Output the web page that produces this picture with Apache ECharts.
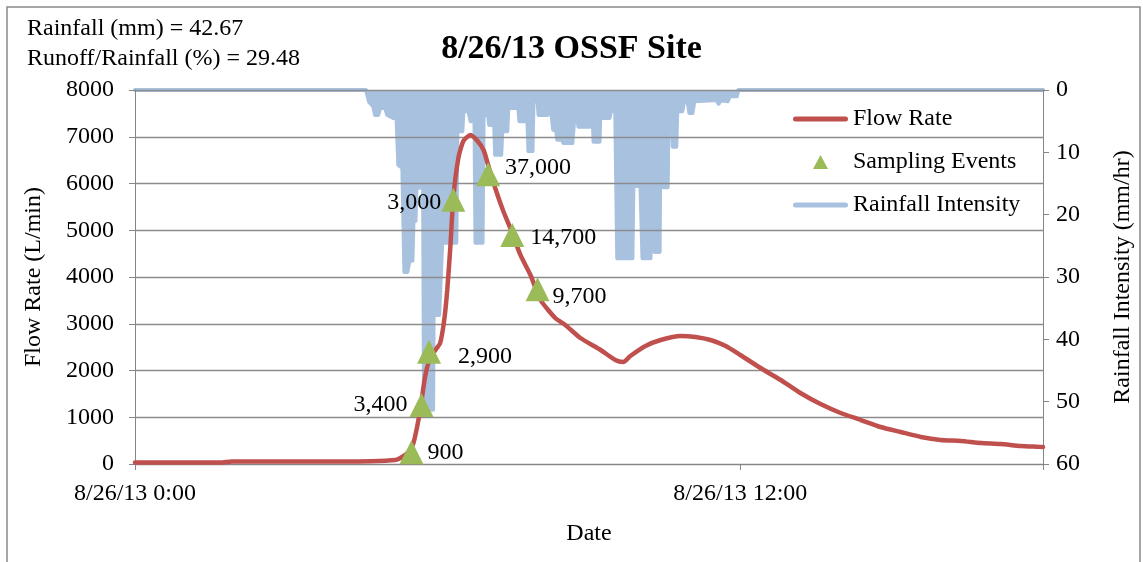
<!DOCTYPE html>
<html><head><meta charset="utf-8">
<script src="https://cdn.jsdelivr.net/npm/echarts@6/dist/echarts.min.js"></script>
<style>html,body{margin:0;padding:0;background:#fff}#c{width:1143px;height:562px}</style>
</head><body><div id="c"></div>
<script>
// ---- data (time in hours after 8/26/13 0:00) ----
const flowHours = [0, 1.69, 1.92, 4.07, 4.66, 5.16, 5.26, 5.42, 5.52, 5.60, 5.66, 5.75, 5.85, 5.97, 6.05, 6.13, 6.19, 6.25, 6.31, 6.41, 6.51, 6.65, 6.79, 6.91, 7.00, 7.14, 7.30, 7.44, 7.64, 7.84, 8.04, 8.33, 8.53, 8.83, 9.23, 9.52, 9.68, 9.82, 10.12, 10.42, 10.81, 11.11, 11.41, 11.71, 12.00, 12.40, 12.80, 13.19, 13.59, 13.99, 14.39, 14.78, 15.18, 15.58, 15.97, 16.37, 16.77, 17.16, 17.56, 18.00];
const flowRate = [30, 30, 55, 55, 60, 85, 128, 257, 449, 834, 1198, 1861, 2267, 2460, 2588, 3080, 3722, 4620, 5690, 6545, 6909, 7037, 6909, 6716, 6396, 5904, 5412, 5048, 4471, 4043, 3508, 3123, 2973, 2695, 2438, 2225, 2182, 2310, 2524, 2652, 2738, 2717, 2652, 2524, 2332, 2053, 1797, 1519, 1283, 1091, 941, 791, 684, 578, 513, 492, 449, 428, 385, 364];

const rainHours = [0, 4.58, 4.64, 4.72, 4.76, 4.82, 4.86, 4.96, 5.00, 5.12, 5.18, 5.22, 5.30, 5.34, 5.40, 5.44, 5.50, 5.52, 5.56, 5.58, 5.64, 5.66, 5.71, 5.73, 5.79, 5.81, 5.85, 5.87, 5.91, 5.93, 5.97, 6.03, 6.09, 6.37, 6.39, 6.49, 6.51, 6.61, 6.65, 6.73, 6.75, 6.89, 6.91, 7.00, 7.02, 7.12, 7.14, 7.26, 7.28, 7.38, 7.40, 7.60, 7.62, 7.78, 7.80, 7.88, 7.90, 7.98, 8.00, 8.18, 8.19, 8.25, 8.29, 8.35, 8.37, 8.47, 8.49, 8.67, 8.71, 8.77, 8.79, 9.01, 9.03, 9.07, 9.09, 9.21, 9.23, 9.27, 9.29, 9.41, 9.43, 9.52, 9.56, 9.86, 9.88, 10.02, 10.06, 10.22, 10.24, 10.28, 10.30, 10.40, 10.42, 10.46, 10.48, 10.56, 10.58, 10.64, 10.66, 10.73, 10.75, 10.85, 10.89, 10.95, 10.99, 11.05, 11.09, 11.53, 11.57, 11.61, 11.75, 11.79, 11.93, 11.96, 18];
const rainIntensity = [0, 0, 1.9, 2.6, 4.0, 4.0, 2.9, 2.9, 4.0, 4.5, 3.5, 12.0, 12.5, 29.2, 29.2, 27.4, 27.4, 21.0, 21.0, 15.7, 15.7, 13.0, 13.0, 51.3, 51.3, 17.6, 17.6, 51.3, 51.3, 17.6, 36.1, 36.1, 24.5, 24.5, 6.6, 6.6, 3.4, 3.4, 5.0, 5.0, 24.5, 24.5, 4.0, 4.0, 5.6, 5.6, 10.4, 10.4, 6.6, 6.6, 2.9, 2.9, 5.0, 5.0, 9.8, 9.8, 1.8, 1.8, 4.0, 4.0, 3.4, 3.4, 6.4, 6.4, 8.0, 8.0, 8.5, 8.5, 4.5, 4.5, 5.9, 5.9, 2.9, 2.9, 8.3, 8.3, 2.1, 2.1, 4.5, 4.5, 3.4, 3.4, 27.0, 27.0, 15.4, 15.4, 27.0, 27.0, 5.6, 5.6, 26.0, 26.0, 2.4, 2.4, 15.6, 15.6, 2.4, 2.4, 9.1, 9.1, 3.4, 3.4, 1.6, 1.6, 3.7, 3.7, 1.8, 1.6, 2.2, 1.6, 1.8, 1.0, 1.0, 0, 0];

const sampleHours = [5.48, 5.68, 5.83, 6.31, 7.00, 7.48, 7.98];
const sampleFlow = [250, 1260, 2400, 5650, 6200, 4900, 3740];
const sampleLabels = ['900', '3,400', '2,900', '3,000', '37,000', '14,700', '9,700'];

const xTickLabels = {0: '8/26/13 0:00', 12: '8/26/13 12:00'};
const infoLines = ['Rainfall (mm) = 42.67', 'Runoff/Rainfall (%) = 29.48'];

// ---- label placement (style, not data) ----
const labelSide = ['right', 'left', 'right', 'left', 'right', 'right', 'right'];
const labelShift = [[0, 0], [2, 0], [13, 5], [4, 3], [1, -6], [2, 3], [-1, 8]];

const FONT = '"Liberation Serif", "Times New Roman", serif';
const FS = 24;
const GRID = '#8c8c8c';
const LINE_ICON = 'path://M2.5,0 L52.5,0 A2.5,2.5 0 0 1 52.5,5 L2.5,5 A2.5,2.5 0 0 1 2.5,0 Z';
const TRI_ICON = 'path://M7,0 L14,13 L0,13 Z';

const chart = echarts.init(document.getElementById('c'));
chart.setOption({
  animation: false,
  backgroundColor: '#fff',
  title: {
    text: '8/26/13 OSSF Site', left: 'center', top: 27,
    textStyle: {fontFamily: FONT, fontSize: 34, fontWeight: 'bold', color: '#000'}
  },
  graphic: [
    {type: 'rect', silent: true, shape: {x: 7, y: 7, width: 1133, height: 600},
     style: {fill: 'none', stroke: '#898989', lineWidth: 1.5}},
    {type: 'text', left: 27, top: 17, silent: true,
     style: {text: infoLines[0], font: FS + 'px ' + FONT, fill: '#000'}},
    {type: 'text', left: 27, top: 47, silent: true,
     style: {text: infoLines[1], font: FS + 'px ' + FONT, fill: '#000'}}
  ],
  legend: {
    orient: 'vertical', left: 793, top: 107, padding: 0,
    itemWidth: 55, itemHeight: 14, itemGap: 19,
    symbolKeepAspect: true,
    selectedMode: false,
    textStyle: {fontFamily: FONT, fontSize: FS, color: '#000'},
    data: [
      {name: 'Flow Rate', icon: LINE_ICON},
      {name: 'Sampling Events', icon: TRI_ICON},
      {name: 'Rainfall Intensity', icon: LINE_ICON}
    ]
  },
  grid: {left: 135, right: 100, top: 90, bottom: 98, containLabel: false, outerBoundsMode: 'none'},
  xAxis: {
    type: 'value', min: 0, max: 18, interval: 12,
    axisLine: {show: true, lineStyle: {color: '#868686', width: 1}},
    axisTick: {show: true, length: 6, lineStyle: {color: '#868686'}},
    splitLine: {show: false},
    axisLabel: {margin: 18, fontFamily: FONT, fontSize: FS, color: '#000',
      formatter: v => xTickLabels[v] || ''},
    name: 'Date', nameLocation: 'middle', nameGap: 58, nameMoveOverlap: false,
    nameTextStyle: {fontFamily: FONT, fontSize: FS, color: '#000'}
  },
  yAxis: [
    {
      type: 'value', min: 0, max: 8000, interval: 1000,
      axisLine: {show: true, lineStyle: {color: '#868686', width: 1}},
      axisTick: {show: true, length: 6, lineStyle: {color: '#868686'}},
      splitLine: {show: true, lineStyle: {color: GRID, width: 1.3}},
      axisLabel: {margin: 21, fontFamily: FONT, fontSize: FS, color: '#000', formatter: v => String(v)},
      name: 'Flow Rate (L/min)', nameLocation: 'middle', nameRotate: 90, nameGap: 89, nameMoveOverlap: false,
      nameTextStyle: {fontFamily: FONT, fontSize: FS, color: '#000'}
    },
    {
      type: 'value', min: 0, max: 60, interval: 10, inverse: true, position: 'right',
      axisLine: {show: true, lineStyle: {color: '#868686', width: 1}},
      axisTick: {show: true, length: 6, lineStyle: {color: '#868686'}},
      splitLine: {show: false},
      axisLabel: {margin: 13, fontFamily: FONT, fontSize: FS, color: '#000', formatter: v => String(v)},
      name: 'Rainfall Intensity (mm/hr)', nameLocation: 'middle', nameRotate: 90, nameGap: 68, nameMoveOverlap: false,
      nameTextStyle: {fontFamily: FONT, fontSize: FS, color: '#000'}
    }
  ],
  series: [
    {
      name: 'Flow Rate', type: 'line', z: 3, symbol: 'none', smooth: 0.2,
      data: flowHours.map((h, i) => [h, flowRate[i]]),
      lineStyle: {color: '#C0504D', width: 4.5, cap: 'round'},
      itemStyle: {color: '#C0504D'}
    },
    {
      name: 'Sampling Events', type: 'scatter', z: 4, symbol: 'triangle', symbolSize: 24,
      itemStyle: {color: '#9BBB59', opacity: 1},
      data: sampleHours.map((h, i) => ({
        value: [h, sampleFlow[i]],
        label: {show: true, formatter: sampleLabels[i], position: labelSide[i], distance: 4,
          offset: labelShift[i], fontFamily: FONT, fontSize: FS, color: '#000'}
      }))
    },
    {
      name: 'Rainfall Intensity', type: 'line', yAxisIndex: 1, z: -1, symbol: 'none',
      data: rainHours.map((h, i) => [h, rainIntensity[i]]),
      lineStyle: {color: '#A7C1DF', width: 4, join: 'round', cap: 'round'},
      itemStyle: {color: '#A7C1DF'},
      areaStyle: {color: '#A7C1DF', opacity: 1}
    }
  ]
});
</script></body></html>
